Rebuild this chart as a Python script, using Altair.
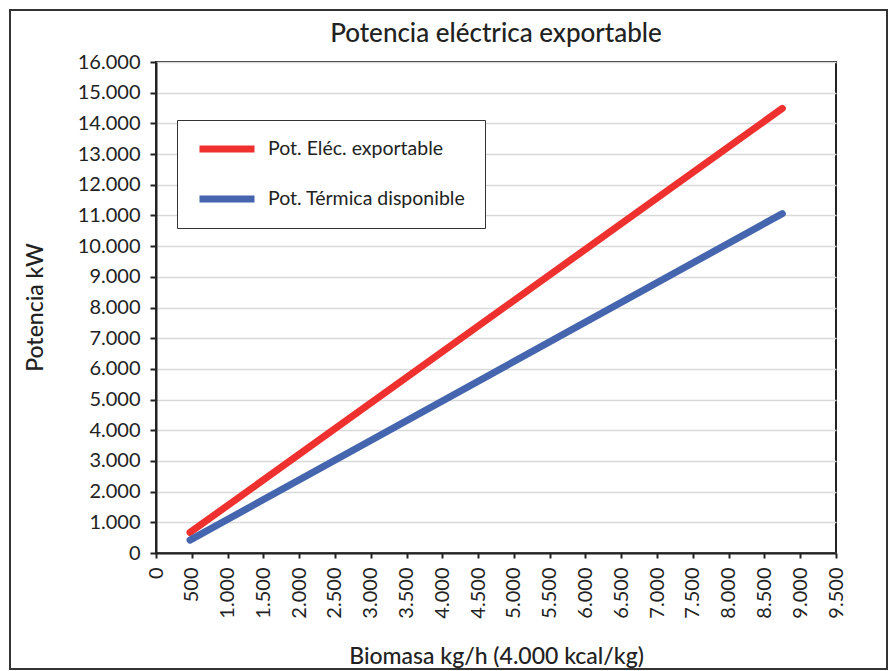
import altair as alt
import pandas as pd

# Data
biomasa = [475, 8750]
pot_elec = [670, 14490]
pot_term = [420, 11060]
series_names = ["Pot. Eléc. exportable", "Pot. Térmica disponible"]
series_colors = ["#EE312E", "#4565AE"]
x_ticks = list(range(0, 9501, 500))
y_ticks = list(range(0, 16001, 1000))

rows = []
for b, v in zip(biomasa, pot_elec):
    rows.append({"Biomasa": b, "Potencia": v, "Serie": series_names[0]})
for b, v in zip(biomasa, pot_term):
    rows.append({"Biomasa": b, "Potencia": v, "Serie": series_names[1]})
df = pd.DataFrame(rows)

FONT = "Lato"
label_expr = "replace(format(datum.value, ','), ',', '.')"

lines = alt.Chart(df).mark_line(strokeWidth=7, strokeCap="round").encode(
    x=alt.X(
        "Biomasa:Q",
        scale=alt.Scale(domain=[0, 9500], nice=False, zero=True),
        axis=alt.Axis(
            title="Biomasa kg/h (4.000 kcal/kg)",
            values=x_ticks,
            labelExpr=label_expr,
            labelAngle=270,
            labelAlign="right",
            labelBaseline="middle",
            labelPadding=9,
            labelFontSize=20,
            tickSize=5,
            grid=False,
            titleFontSize=23,
            titleFontWeight=500,
            titleY=110,
            titleBaseline="alphabetic",
            labelOverlap=False,
        ),
    ),
    y=alt.Y(
        "Potencia:Q",
        scale=alt.Scale(domain=[0, 16000], nice=False),
        axis=alt.Axis(
            title="Potencia kW",
            values=y_ticks,
            labelExpr=label_expr,
            labelFontSize=20,
            labelPadding=10,
            tickSize=6,
            grid=True,
            gridColor="#d9d9d9",
            gridWidth=1.5,
            titleFontSize=23,
            titleFontWeight=500,
            titleX=-121,
            titleY=245,
            titleAlign="center",
            titleBaseline="middle",
            titleAngle=270,
            labelOverlap=False,
        ),
    ),
    color=alt.Color(
        "Serie:N",
        scale=alt.Scale(domain=series_names, range=series_colors),
        legend=alt.Legend(
            title=None,
            orient="none",
            legendX=21,
            legendY=58,
            padding=19,
            clipHeight=20,
            rowPadding=30,
            symbolType="stroke",
            symbolSize=3025,
            symbolStrokeWidth=7,
            labelFontSize=19.5,
            labelOffset=10,
            labelLimit=400,
            strokeColor="#333333",
            fillColor="white",
        ),
    ),
)

frame = alt.Chart(pd.DataFrame({"a": [0]})).mark_rect(
    fill=None, stroke="#333333", strokeWidth=2, clip=False
).encode(
    x=alt.value(-146), x2=alt.value(731),
    y=alt.value(-52), y2=alt.value(607),
)

chart = alt.layer(frame, lines).properties(
    width=680,
    height=491,
    title=alt.TitleParams(
        "Potencia eléctrica exportable",
        fontSize=26,
        fontWeight=500,
        font=FONT,
        anchor="middle",
        frame="group",
        baseline="alphabetic",
        offset=0,
        dy=59,
        color="#222222",
    ),
    autosize=alt.AutoSizeParams(type="none"),
    padding={"left": 148, "top": 54, "right": 52, "bottom": 118},
).configure(
    font=FONT,
    background="white",
).configure_view(
    stroke="#222222", strokeWidth=2,
).configure_axis(
    domainColor="#222222", domainWidth=2,
    tickColor="#222222", tickWidth=2,
    labelColor="#222222", titleColor="#222222",
    labelFont=FONT, titleFont=FONT,
).configure_legend(
    labelFont=FONT, labelColor="#222222",
)

chart.save("out.html", embed_options={"renderer": "svg", "actions": False})
